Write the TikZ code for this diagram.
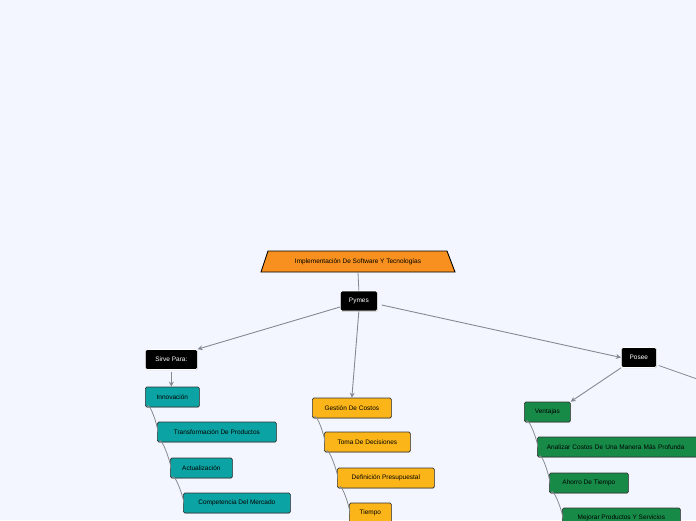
\documentclass[tikz,border=0pt]{standalone}
\usepackage{fontspec}
\setmainfont{Liberation Sans}
\usetikzlibrary{arrows.meta,shadows}
\definecolor{bg}{HTML}{F3F6FE}
\definecolor{orng}{HTML}{F7901E}
\definecolor{teal}{HTML}{0BA3A3}
\definecolor{gold}{HTML}{FBB518}
\definecolor{grn}{HTML}{178A48}
\definecolor{ln}{HTML}{858A90}
\tikzset{x=1pt,y=-1pt,
 bx/.style={draw=black!80,line width=0.7pt,rounded corners=1.5pt,anchor=west,minimum height=20pt,inner xsep=0pt,font=\fontsize{6.5}{7.5}\selectfont,drop shadow={shadow xshift=0.6pt,shadow yshift=-0.6pt,opacity=0.4}},
 blk/.style={bx,fill=black,text=white,draw=white},
 tl/.style={bx,fill=teal},
 gd/.style={bx,fill=gold},
 gn/.style={bx,fill=grn},
 con/.style={draw=ln,line width=0.9pt,-{Stealth[length=5pt,width=5pt]}},
 tr/.style={draw=ln,line width=0.8pt}}
\begin{document}
\begin{tikzpicture}
\useasboundingbox (0,0) rectangle (696,520);
\clip (0,0) rectangle (696,520);
\fill[bg] (0,0) rectangle (696,520);
\filldraw[fill=orng,draw=black,line width=0.9pt] (268,251) -- (447,251) -- (455,272) -- (261,272) -- cycle;
\node[font=\fontsize{6.5}{7.5}\selectfont,minimum height=21pt,minimum width=194pt,inner sep=0pt] (t) at (358,261.5) {Implementación De Software Y Tecnologías};
\node[blk,minimum width=37pt] (py) at (340,301) {Pymes};
\node[blk,minimum width=52pt] (sp) at (145,359.5) {Sirve Para:};
\node[blk,minimum width=35pt] (po) at (621,357.5) {Posee};
\node[tl,minimum width=54pt] (i1) at (145,397) {Innovación};
\node[tl,minimum width=119pt] (i2) at (157,432) {Transformación De Productos};
\node[tl,minimum width=62pt] (i3) at (170,468) {Actualización};
\node[tl,minimum width=107pt] (i4) at (183,503) {Competencia Del Mercado};
\node[gd,minimum width=79pt] (g1) at (312,408) {Gestión De Costos};
\node[gd,minimum width=86pt] (g2) at (324,442) {Toma De Decisiones};
\node[gd,minimum width=97pt] (g3) at (337,478) {Definición Presupuestal};
\node[gd,minimum width=42pt] (g4) at (349,513) {Tiempo};
\node[gn,minimum width=46pt] (v1) at (524,412) {Ventajas};
\node[gn,minimum width=170pt,align=left,text width=165pt] (v2) at (537,447) {\hspace*{7pt}Analizar Costos De Una Manera Más Profunda};
\node[gn,minimum width=79pt] (v3) at (549,483) {Ahorro De Tiempo};
\node[gn,minimum width=118pt] (v4) at (562,518) {Mejorar Productos Y Servicios};
\coordinate (off) at (700,380);
\draw[tr] (t.south) -- (py.north);
\draw[con] (py.west) ++(0,6) -- (sp.north east);
\draw[con] (py.south) -- (g1.north);
\draw[con] (py.east) ++(4,4) -- (po.west);
\draw[tr] (po.east) ++(2,8) -- (off);
\draw[con] (po.south west) -- (v1.north east);
\draw[con] (sp.south) ++(0,2) -- (i1.north -| sp.south);
\foreach \a/\b in {i1/i2,i2/i3,i3/i4,g1/g2,g2/g3,g3/g4,v1/v2,v2/v3,v3/v4}{
 \draw[tr] ([xshift=2pt]\a.south west) .. controls ([xshift=4pt,yshift=10pt]\a.south west) and ([xshift=4pt,yshift=-4pt]\b.west) .. (\b.west);
}
\end{tikzpicture}
\end{document}
